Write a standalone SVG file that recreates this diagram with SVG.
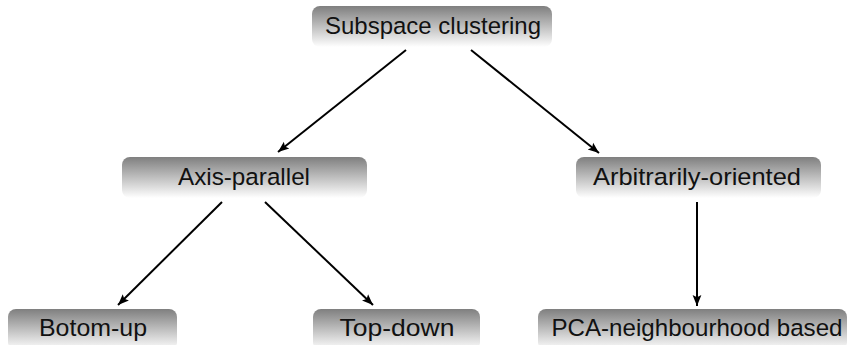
<svg xmlns="http://www.w3.org/2000/svg" width="856" height="345" viewBox="0 0 856 345">
<defs>
<linearGradient id="g" x1="0" y1="0" x2="0" y2="1">
<stop offset="0" stop-color="#7f7f7f"/>
<stop offset="1" stop-color="#ffffff"/>
</linearGradient>
<marker id="ah" viewBox="0 0 10 10" refX="10" refY="5" markerWidth="11" markerHeight="11" markerUnits="userSpaceOnUse" orient="auto">
<path d="M0,1 L10,5 L0,9 L2,5 Z" fill="#000"/>
</marker>
</defs>
<style>
.box{fill:url(#g);}
.t{font-family:"Liberation Sans",Arial,sans-serif;font-size:24.5px;fill:#111;text-anchor:middle;}
.e{stroke:#000;stroke-width:2;fill:none;marker-end:url(#ah);}
</style>
<rect width="856" height="345" fill="#fff"/>
<g id="edges">
<line class="e" x1="406" y1="50" x2="278" y2="152"/>
<line class="e" x1="471" y1="50" x2="599" y2="153"/>
<line class="e" x1="222" y1="202" x2="118" y2="305"/>
<line class="e" x1="265" y1="202" x2="373" y2="305"/>
<line class="e" x1="697" y1="202" x2="697" y2="306"/>
</g>
<g id="n-subspace">
<rect class="box" x="312" y="6" width="240" height="41" rx="8"/>
<text class="t" x="433" y="34" textLength="216" lengthAdjust="spacingAndGlyphs">Subspace clustering</text>
</g>
<g id="n-axis">
<rect class="box" x="122" y="157" width="245" height="41" rx="8"/>
<text class="t" x="244" y="185" textLength="132" lengthAdjust="spacingAndGlyphs">Axis-parallel</text>
</g>
<g id="n-arb">
<rect class="box" x="576" y="157" width="245" height="41" rx="8"/>
<text class="t" x="697" y="185" textLength="208" lengthAdjust="spacingAndGlyphs">Arbitrarily-oriented</text>
</g>
<g id="n-bottom">
<rect class="box" x="8" y="309" width="169" height="41" rx="8"/>
<text class="t" x="93" y="336" textLength="108" lengthAdjust="spacingAndGlyphs">Botom-up</text>
</g>
<g id="n-top">
<rect class="box" x="313" y="309" width="167" height="41" rx="8"/>
<text class="t" x="397" y="336" textLength="115" lengthAdjust="spacingAndGlyphs">Top-down</text>
</g>
<g id="n-pca">
<rect class="box" x="538" y="309" width="309" height="41" rx="8"/>
<text class="t" x="697" y="336" textLength="291" lengthAdjust="spacingAndGlyphs">PCA-neighbourhood based</text>
</g>
</svg>
